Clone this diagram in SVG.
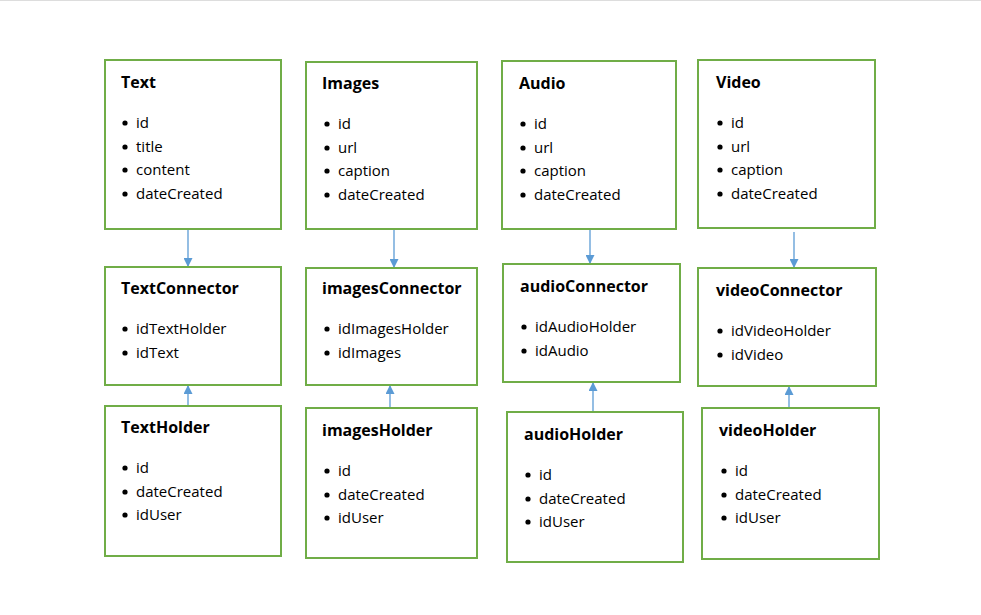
<svg xmlns="http://www.w3.org/2000/svg" width="981" height="615" viewBox="0 0 981 615">
<defs>
<style>
.b{fill:#fff;stroke:#70ad47;stroke-width:2}
.t{font-family:"Open Sans","Liberation Sans",sans-serif;font-size:15px;fill:#000}
.h{font-family:"Open Sans","Liberation Sans",sans-serif;font-size:16px;font-weight:bold;fill:#000}
.c{stroke:#5b9bd5;stroke-width:1.3;fill:none}
</style>
<marker id="a" viewBox="0 0 10 10" refX="10" refY="5" markerWidth="9" markerHeight="9" markerUnits="userSpaceOnUse" orient="auto"><path d="M0,0L10,5L0,10z" fill="#5b9bd5"/></marker>
<g id="bullet"><circle r="2.6" fill="#000"/></g>
</defs>
<rect width="981" height="615" fill="#fff"/>
<line x1="0" y1="0.5" x2="981" y2="0.5" stroke="#ddd"/>
<g id="connectors">
<line class="c" x1="188" y1="229" x2="188" y2="267" marker-end="url(#a)"/>
<line class="c" x1="394" y1="229" x2="394" y2="268" marker-end="url(#a)"/>
<line class="c" x1="590" y1="229" x2="590" y2="264" marker-end="url(#a)"/>
<line class="c" x1="794" y1="232" x2="794" y2="268" marker-end="url(#a)"/>
<line class="c" x1="188" y1="406" x2="188" y2="385" marker-end="url(#a)"/>
<line class="c" x1="390" y1="408" x2="390" y2="385" marker-end="url(#a)"/>
<line class="c" x1="593" y1="412" x2="593" y2="382" marker-end="url(#a)"/>
<line class="c" x1="789" y1="408" x2="789" y2="386" marker-end="url(#a)"/>
</g>
<g id="Text"><rect class="b" x="105" y="60" width="176" height="169"/><text class="h" x="121" y="88">Text</text>
<use href="#bullet" x="125" y="123"/><text class="t" x="136" y="128">id</text>
<use href="#bullet" x="125" y="147"/><text class="t" x="136" y="152">title</text>
<use href="#bullet" x="125" y="170"/><text class="t" x="136" y="175">content</text>
<use href="#bullet" x="125" y="194"/><text class="t" x="136" y="199">dateCreated</text></g>
<g id="Images"><rect class="b" x="306" y="62" width="171" height="167"/><text class="h" x="322" y="89">Images</text>
<use href="#bullet" x="327" y="124"/><text class="t" x="338" y="129">id</text>
<use href="#bullet" x="327" y="148"/><text class="t" x="338" y="153">url</text>
<use href="#bullet" x="327" y="171"/><text class="t" x="338" y="176">caption</text>
<use href="#bullet" x="327" y="195"/><text class="t" x="338" y="200">dateCreated</text></g>
<g id="Audio"><rect class="b" x="502" y="61" width="174" height="168"/><text class="h" x="519" y="89">Audio</text>
<use href="#bullet" x="523" y="124"/><text class="t" x="534" y="129">id</text>
<use href="#bullet" x="523" y="148"/><text class="t" x="534" y="153">url</text>
<use href="#bullet" x="523" y="171"/><text class="t" x="534" y="176">caption</text>
<use href="#bullet" x="523" y="195"/><text class="t" x="534" y="200">dateCreated</text></g>
<g id="Video"><rect class="b" x="698" y="60" width="177" height="168"/><text class="h" x="716" y="88">Video</text>
<use href="#bullet" x="720" y="123"/><text class="t" x="731" y="128">id</text>
<use href="#bullet" x="720" y="147"/><text class="t" x="731" y="152">url</text>
<use href="#bullet" x="720" y="170"/><text class="t" x="731" y="175">caption</text>
<use href="#bullet" x="720" y="194"/><text class="t" x="731" y="199">dateCreated</text></g>
<g id="TextConnector"><rect class="b" x="105" y="267" width="176" height="118"/><text class="h" x="121" y="294">TextConnector</text>
<use href="#bullet" x="125" y="329"/><text class="t" x="136" y="334">idTextHolder</text>
<use href="#bullet" x="125" y="353"/><text class="t" x="136" y="358">idText</text></g>
<g id="imagesConnector"><rect class="b" x="306" y="268" width="171" height="117"/><text class="h" x="322" y="294">imagesConnector</text>
<use href="#bullet" x="327" y="329"/><text class="t" x="338" y="334">idImagesHolder</text>
<use href="#bullet" x="327" y="353"/><text class="t" x="338" y="358">idImages</text></g>
<g id="audioConnector"><rect class="b" x="503" y="264" width="177" height="118"/><text class="h" x="520" y="292">audioConnector</text>
<use href="#bullet" x="524" y="327"/><text class="t" x="535" y="332">idAudioHolder</text>
<use href="#bullet" x="524" y="351"/><text class="t" x="535" y="356">idAudio</text></g>
<g id="videoConnector"><rect class="b" x="698" y="268" width="178" height="118"/><text class="h" x="716" y="296">videoConnector</text>
<use href="#bullet" x="720" y="331"/><text class="t" x="731" y="336">idVideoHolder</text>
<use href="#bullet" x="720" y="355"/><text class="t" x="731" y="360">idVideo</text></g>
<g id="TextHolder"><rect class="b" x="105" y="406" width="176" height="150"/><text class="h" x="121" y="433">TextHolder</text>
<use href="#bullet" x="125" y="468"/><text class="t" x="136" y="473">id</text>
<use href="#bullet" x="125" y="492"/><text class="t" x="136" y="497">dateCreated</text>
<use href="#bullet" x="125" y="515"/><text class="t" x="136" y="520">idUser</text></g>
<g id="imagesHolder"><rect class="b" x="306" y="408" width="171" height="150"/><text class="h" x="322" y="436">imagesHolder</text>
<use href="#bullet" x="327" y="471"/><text class="t" x="338" y="476">id</text>
<use href="#bullet" x="327" y="495"/><text class="t" x="338" y="500">dateCreated</text>
<use href="#bullet" x="327" y="518"/><text class="t" x="338" y="523">idUser</text></g>
<g id="audioHolder"><rect class="b" x="507" y="412" width="176" height="150"/><text class="h" x="524" y="440">audioHolder</text>
<use href="#bullet" x="528" y="475"/><text class="t" x="539" y="480">id</text>
<use href="#bullet" x="528" y="499"/><text class="t" x="539" y="504">dateCreated</text>
<use href="#bullet" x="528" y="522"/><text class="t" x="539" y="527">idUser</text></g>
<g id="videoHolder"><rect class="b" x="702" y="408" width="177" height="151"/><text class="h" x="719" y="436">videoHolder</text>
<use href="#bullet" x="724" y="471"/><text class="t" x="735" y="476">id</text>
<use href="#bullet" x="724" y="495"/><text class="t" x="735" y="500">dateCreated</text>
<use href="#bullet" x="724" y="518"/><text class="t" x="735" y="523">idUser</text></g>
</svg>
